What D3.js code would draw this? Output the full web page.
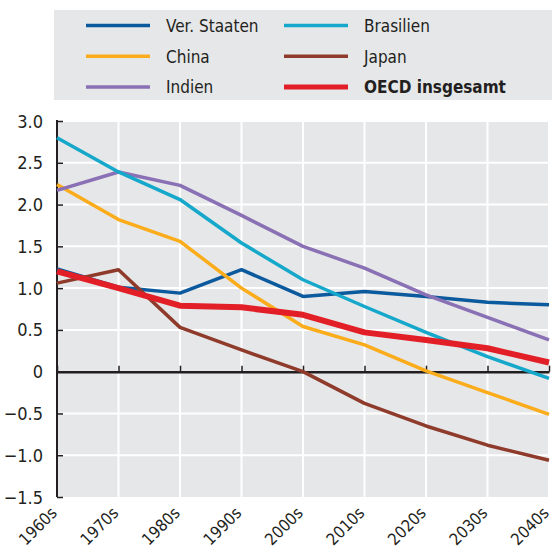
<!DOCTYPE html>
<html>
<head>
<meta charset="utf-8">
<script src="https://cdn.jsdelivr.net/npm/d3@7"></script>
<style>
body { margin: 0; background: #fff; }
svg text { font-family: "DejaVu Sans Condensed", "DejaVu Sans", sans-serif; font-stretch: condensed; fill: #231f20; }
</style>
</head>
<body>
<svg id="chart" width="552" height="549"></svg>
<script>
var decades = ["1960s", "1970s", "1980s", "1990s", "2000s", "2010s", "2020s", "2030s", "2040s"];
var yTicks = [-1.5, -1.0, -0.5, 0, 0.5, 1.0, 1.5, 2.0, 2.5, 3.0];

var usa    = [1.23, 1.01, 0.94, 1.22, 0.90, 0.96, 0.90, 0.83, 0.80];
var brazil = [2.80, 2.39, 2.06, 1.54, 1.10, 0.78, 0.47, 0.18, -0.08];
var china  = [2.24, 1.82, 1.56, 1.00, 0.54, 0.32, 0.01, -0.25, -0.51];
var japan  = [1.06, 1.22, 0.53, 0.26, 0.00, -0.38, -0.65, -0.88, -1.06];
var india  = [2.17, 2.39, 2.23, 1.87, 1.50, 1.24, 0.92, 0.65, 0.38];
var oecd   = [1.20, 1.00, 0.79, 0.77, 0.68, 0.47, 0.38, 0.28, 0.11];

// legend order (two columns) and draw order
var series = [
  {name: "Ver. Staaten", values: usa, color: "#0c5a9e", width: 3.5, col: 0, row: 0},
  {name: "China", values: china, color: "#fbac1a", width: 3.5, col: 0, row: 1},
  {name: "Indien", values: india, color: "#8a70b4", width: 3.5, col: 0, row: 2},
  {name: "Brasilien", values: brazil, color: "#15a8cb", width: 3.5, col: 1, row: 0},
  {name: "Japan", values: japan, color: "#8f3b2b", width: 3.5, col: 1, row: 1},
  {name: "OECD insgesamt", values: oecd, color: "#e21f26", width: 6, col: 1, row: 2, bold: true}
];

function draw() {
  var svg = d3.select("#chart");
  var pLeft = 57, pRight = 549, pTop = 121, pBottom = 497;

  var x = d3.scalePoint().domain(decades).range([pLeft, pRight]);
  var y = d3.scaleLinear().domain([-1.5, 3]).range([pBottom, pTop]);

  // legend
  var legend = svg.append("g");
  legend.append("rect").attr("x", 54).attr("y", 10).attr("width", 498).attr("height", 90).attr("fill", "#e6e7e8");
  series.forEach(function(s) {
    var lx = s.col == 0 ? 86 : 284;
    var ly = 25.5 + s.row * 30.7;
    legend.append("line").attr("x1", lx).attr("x2", lx + 64).attr("y1", ly).attr("y2", ly)
      .attr("stroke", s.color).attr("stroke-width", s.bold ? 5 : 3.5);
    legend.append("text").attr("x", lx + 80).attr("y", ly + 6.5).attr("font-size", 17)
      .attr("font-weight", s.bold ? "bold" : "normal").text(s.name);
  });

  // plot background
  svg.append("rect").attr("x", pLeft).attr("y", pTop - 1).attr("width", pRight - pLeft).attr("height", pBottom - pTop + 1)
    .attr("fill", "#e6e7e8");

  // grid
  svg.append("g").selectAll("line").data(decades.slice(1)).join("line")
    .attr("x1", d => x(d)).attr("x2", d => x(d)).attr("y1", pTop - 1).attr("y2", pBottom)
    .attr("stroke", "#fff").attr("stroke-width", 2);
  svg.append("g").selectAll("line").data(yTicks.filter(d => d != 0 && d != -1.5)).join("line")
    .attr("x1", pLeft).attr("x2", pRight).attr("y1", d => y(d)).attr("y2", d => y(d))
    .attr("stroke", "#fff").attr("stroke-width", 2);

  // y axis
  var yAxis = svg.append("g").attr("transform", "translate(" + pLeft + ",0)")
    .call(d3.axisRight(y).tickValues(yTicks).tickSize(6).tickFormat(""));
  yAxis.select(".domain").remove();
  yAxis.selectAll("line").attr("stroke", "#231f20").attr("stroke-width", 1.5);
  svg.append("line").attr("x1", pLeft).attr("x2", pLeft).attr("y1", pTop - 1).attr("y2", pBottom)
    .attr("stroke", "#231f20").attr("stroke-width", 2);
  svg.append("g").selectAll("text").data(yTicks).join("text")
    .attr("x", 43).attr("y", d => y(d) + 6.5).attr("text-anchor", "end").attr("font-size", 18)
    .text(d => d == 0 ? "0" : d3.format(".1f")(d));

  // zero line with ticks
  var xAxis = svg.append("g").attr("transform", "translate(0," + y(0) + ")")
    .call(d3.axisTop(x).tickSize(6).tickSizeOuter(0).tickFormat(""));
  xAxis.select(".domain").attr("stroke", "#231f20").attr("stroke-width", 2.5);
  xAxis.selectAll(".tick line").attr("stroke", "#231f20").attr("stroke-width", 1.5);

  // x labels
  svg.append("g").selectAll("text").data(decades).join("text")
    .attr("transform", d => "translate(" + (x(d) + 1) + ",514) rotate(-45)")
    .attr("text-anchor", "end").attr("font-size", 16.5)
    .text(d => d);

  // lines
  var line = d3.line().x((d, i) => x(decades[i])).y(d => y(d));
  series.forEach(function(s) {
    svg.append("path").datum(s.values).attr("d", line).attr("fill", "none")
      .attr("stroke", s.color).attr("stroke-width", s.width).attr("stroke-linejoin", "round");
  });
}
draw();
</script>
</body>
</html>
